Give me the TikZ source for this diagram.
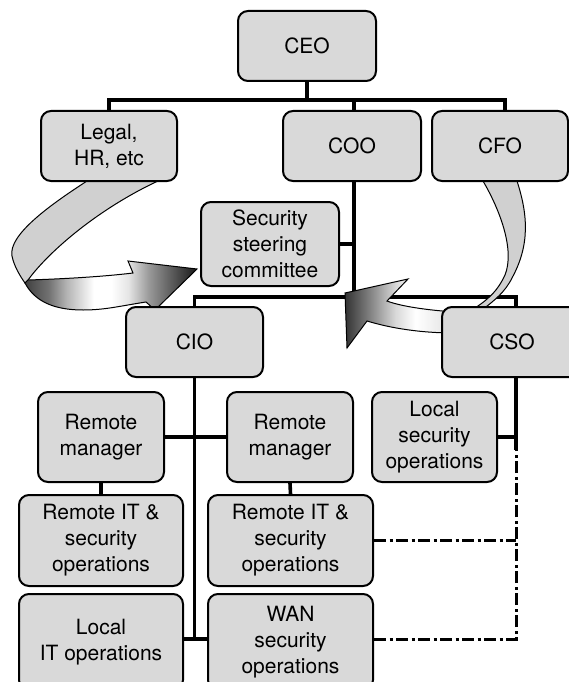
\documentclass[tikz,border=0pt]{standalone}
\usepackage{fontspec}
\setmainfont{TeX Gyre Heros}
\usetikzlibrary{calc}
\definecolor{boxfill}{RGB}{217,217,217}
\definecolor{ribbonfill}{RGB}{208,208,208}
\pgfdeclarelayer{lines}
\pgfdeclarelayer{arrows}
\pgfsetlayers{lines,arrows,main}
% metallic gradients for the two twisted arrows (bounding box maps to 25bp--75bp)
\pgfdeclarehorizontalshading{leftflow}{100bp}{color(0bp)=(black!75); color(25bp)=(black!75);
  color(32bp)=(black!55); color(37bp)=(black!30); color(45bp)=(white); color(50bp)=(white);
  color(55bp)=(black!10); color(61bp)=(black!40); color(72bp)=(black!80); color(75bp)=(black!90);
  color(100bp)=(black!90)}
\pgfdeclarehorizontalshading{rightflow}{100bp}{color(0bp)=(black!80); color(25bp)=(black!80);
  color(36bp)=(black!50); color(48bp)=(black!15); color(57bp)=(white); color(68bp)=(white!92!black);
  color(75bp)=(black!15); color(100bp)=(black!15)}

\begin{document}
\begin{tikzpicture}[x=1pt,y=-1pt,
  box/.style={draw=black, line width=2pt, fill=boxfill, rounded corners=10pt,
    align=center, inner sep=0pt, font=\fontsize{21}{26}\selectfont},
  conn/.style={line width=3.6pt},
  dashdot/.style={line width=3pt, dash pattern=on 12pt off 3.5pt on 3pt off 3.5pt},
  ribbon/.style={draw=black, line width=1pt, fill=ribbonfill},
  flowarrow/.style={draw=black, line width=1pt},
]
\useasboundingbox (0,0) rectangle (569,682);

% ---- boxes ----
\node[box, minimum width=138pt, minimum height=70pt] (ceo)   at (307,46)    {CEO};
\node[box, minimum width=136pt, minimum height=70pt] (legal) at (109,146)   {Legal,\\HR, etc};
\node[box, minimum width=138pt, minimum height=70pt] (coo)   at (352,146)   {COO};
\node[box, minimum width=136pt, minimum height=70pt] (cfo)   at (500,146)   {CFO};
\node[box, minimum width=138pt, minimum height=84pt] (ssc)   at (270,244)   {Security\\steering\\committee};
\node[box, minimum width=137pt, minimum height=70pt] (cio)   at (194.5,342) {CIO};
\node[box, minimum width=140pt, minimum height=70pt] (cso)   at (512,342)   {CSO};
\node[box, minimum width=126pt, minimum height=90pt] (rm1)   at (101,437)   {Remote\\manager};
\node[box, minimum width=126pt, minimum height=90pt] (rm2)   at (290,437)   {Remote\\manager};
\node[box, minimum width=125pt, minimum height=90pt] (lso)   at (434.5,437) {Local\\security\\operations};
\node[box, minimum width=164pt, minimum height=91pt] (rit1)  at (101,540.5) {Remote IT \&\\security\\operations};
\node[box, minimum width=165pt, minimum height=91pt] (rit2)  at (290.5,540.5) {Remote IT \&\\security\\operations};
\node[box, minimum width=164pt, minimum height=96pt] (lit)   at (101,642)   {Local\\IT operations};
\node[box, minimum width=165pt, minimum height=96pt] (wan)   at (290.5,642) {WAN\\security\\operations};

% ---- helper coordinates ----
\coordinate (bus1) at (0,100);
\coordinate (bus2) at (0,297);
\coordinate (bot) at (0,639);
\coordinate (dashTop) at (0,450);
\coordinate (cooStem) at ([xshift=2pt]coo.south);
\coordinate (cfoTop) at ([xshift=5pt]cfo.north);
\coordinate (csoStem) at ([xshift=4pt]cso.south);

% ---- reporting lines ----
\begin{pgfonlayer}{lines}
  \draw[conn] (ceo.south) -- (ceo.south |- bus1);
  \draw[conn] (legal.north) -- (legal.north |- bus1) -- (cfoTop |- bus1) -- (cfoTop);
  \draw[conn] ([xshift=2pt]coo.north) -- ([xshift=2pt]coo.north |- bus1);
  \draw[conn] (cooStem) -- (cooStem |- bus2);
  \draw[conn] (ssc.east) -- (ssc.east -| cooStem);
  \draw[conn] (cio.north) -- (cio.north |- bus2) -- (csoStem |- bus2) -- (csoStem |- cso.north);
  \draw[conn] (cio.south) -- (cio.south |- bot);
  \draw[conn] (rm1.east) -- (rm2.west);
  \draw[conn] (lit.east |- bot) -- (wan.west |- bot);
  \draw[conn] (rm1.south) -- (rit1.north);
  \draw[conn] (rm2.south) -- (rit2.north);
  \draw[conn] (csoStem) -- (csoStem |- dashTop);
  \draw[conn] (lso.east) -- (lso.east -| csoStem);
  \draw[dashdot] (rit2.east) -- (rit2.east -| csoStem);
  \draw[dashdot] (wan.east |- bot) -- (csoStem |- bot) -- (csoStem |- dashTop);
\end{pgfonlayer}

% ---- twisted ribbon arrows ----
\begin{pgfonlayer}{arrows}
  % from Legal, HR down and round to the steering committee
  \draw[ribbon] (87,181) .. controls (50,205) and (8,235) .. (12,256)
     .. controls (14,266) and (20,276) .. (25,283) -- (28,280)
     .. controls (50,250) and (100,208) .. (158,181) -- cycle;
  \shadedraw[flowarrow, shading=leftflow]
     (25,283) -- (28,280) .. controls (60,279) and (100,277) .. (133,273)
     -- (128,261) -- (197,269) -- (155,310) -- (146,302)
     .. controls (120,306) and (105,310) .. (83,310)
     .. controls (55,310) and (35,302) .. (25,283) -- cycle;
  % from CFO down into the CSO and back towards the COO line
  \draw[ribbon] (483,181) .. controls (500,210) and (515,250) .. (505,275)
     .. controls (498,290) and (490,298) .. (475,308) -- (482,310)
     .. controls (495,300) and (505,292) .. (512,278)
     .. controls (530,245) and (528,215) .. (517,181) -- cycle;
  \shadedraw[flowarrow, shading=rightflow]
     (455,312) .. controls (425,310) and (400,306) .. (387,301)
     -- (408,279) -- (345,293) -- (347,348) -- (367,321)
     .. controls (390,328) and (420,333) .. (455,333) -- cycle;
\end{pgfonlayer}
\end{tikzpicture}
\end{document}
